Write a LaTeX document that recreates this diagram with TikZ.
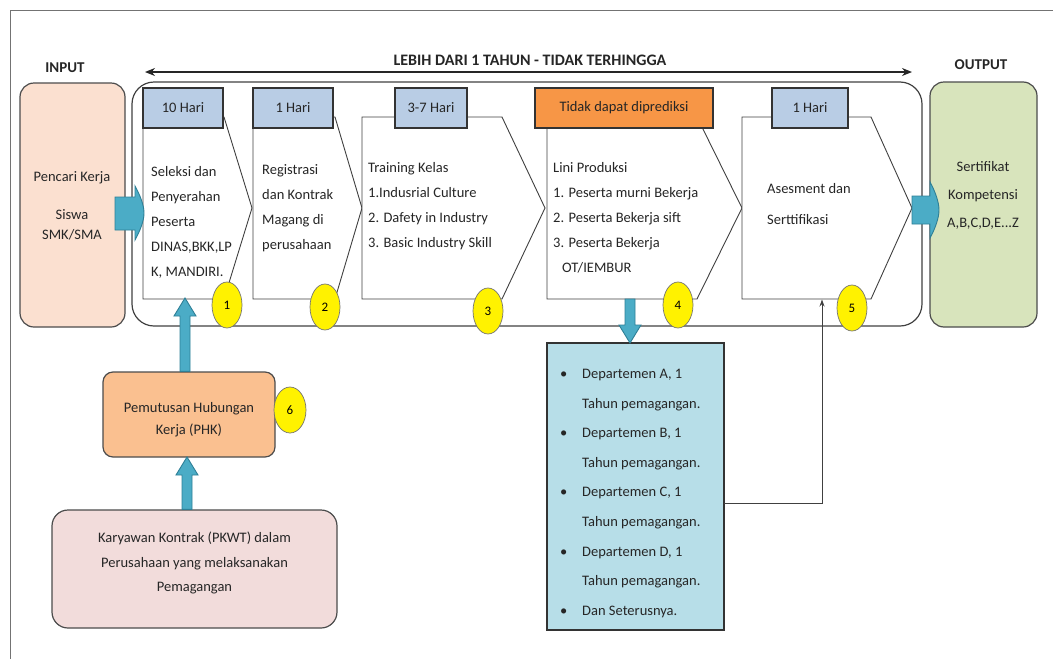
\documentclass[tikz,border=0pt]{standalone}
\usepackage{fontspec}
\setmainfont{Carlito}
\usetikzlibrary{calc,arrows.meta,shapes.geometric}
\definecolor{inpk}{HTML}{FBE0D0}
\definecolor{outgr}{HTML}{D8E4BC}
\definecolor{lblue}{HTML}{B9CDE5}
\definecolor{orng}{HTML}{F79646}
\definecolor{phkc}{HTML}{FAC090}
\definecolor{karc}{HTML}{F2DCDB}
\definecolor{deptc}{HTML}{B7DEE8}
\definecolor{blkc}{HTML}{4BACC6}
\definecolor{blkd}{HTML}{2E7F96}
\definecolor{ink}{HTML}{262626}
\newcommand\vblock[3]{%
 \draw[blk] let \p1=(#1), \p2=(#2) in
 (\x2-5pt,\y1) -- (\x2-5pt,{\y2-(#3)*18pt}) -- (\x2-11pt,{\y2-(#3)*18pt}) -- (\x2,\y2) -- (\x2+11pt,{\y2-(#3)*18pt}) -- (\x2+5pt,{\y2-(#3)*18pt}) -- (\x2+5pt,\y1) -- cycle;}
\begin{document}
\begin{tikzpicture}[x=1pt,y=-1pt,
  txt/.style={font=\fontsize{14.5}{25}\selectfont, inner sep=0, align=left, text=ink},
  hdr/.style={font=\bfseries\fontsize{15}{18}\selectfont, inner sep=0, text=ink},
  lbl/.style={draw=black!80, fill=lblue, line width=1.4pt, minimum height=40, inner sep=0, font=\fontsize{14.5}{18}\selectfont, text=ink},
  num/.style={ellipse, draw=black!55, line width=0.7pt, fill=yellow, minimum width=30, minimum height=46, inner sep=0, font=\fontsize{13}{15}\selectfont},
  rbox/.style={draw=black!70, line width=1.2pt, rounded corners=14, inner sep=0},
  chev/.style={draw=black!75, line width=0.9pt, fill=white},
  blk/.style={fill=blkc, draw=blkd, line width=0.9pt},
  thinarr/.style={draw=black!75, line width=0.9pt, -{Stealth[length=7pt,width=5pt]}}
]
\useasboundingbox (0,0) rectangle (1053,659);
% frame
\draw[black!55, line width=1pt] (10,659) -- (10,10) -- (1053,10);
% headers
\node[hdr] (inlbl) at (65,68) {INPUT};
\node[hdr] (outlbl) at (981,65) {OUTPUT};
\node[hdr, font=\bfseries\fontsize{16}{18}\selectfont] (span) at (530,60) {LEBIH DARI 1 TAHUN - TIDAK TERHINGGA};
\coordinate (spanL) at (145,72);
\coordinate (spanR) at (912,72);
\draw[line width=1.3pt, black!85, {Stealth[length=10pt,width=8pt]}-{Stealth[length=10pt,width=8pt]}] (spanL) -- (spanR);
% container
\node[draw=black!75, line width=1.2pt, rounded corners=22, minimum width=790, minimum height=244, inner sep=0] (cont) at (527,204) {};
% chevrons
\draw[chev] (143,117) -- (224,117) -- (252,208) -- (224,299) -- (143,299) -- cycle;
\draw[chev] (253,117) -- (335,117) -- (362,208) -- (335,299) -- (253,299) -- cycle;
\draw[chev] (362,117) -- (502,117) -- (545,208) -- (502,299) -- (362,299) -- cycle;
\draw[chev] (547,117) -- (697,117) -- (742,208) -- (697,299) -- (547,299) -- cycle;
\draw[chev] (742,117) -- (871,117) -- (912,208) -- (871,299) -- (742,299) -- cycle;
% label boxes
\node[lbl, minimum width=80] (l1) at (183,108) {10 Hari};
\node[lbl, minimum width=80] (l2) at (293,108) {1 Hari};
\node[lbl, minimum width=72] (l3) at (431,108) {3-7 Hari};
\node[lbl, minimum width=178, fill=orng] (l4) at (624,108) {Tidak dapat diprediksi};
\node[lbl, minimum width=76] (l5) at (810,108) {1 Hari};
% chevron texts
\node[txt, anchor=north west] (t1) at (151,166) {Seleksi dan\\Penyerahan\\Peserta\\DINAS,BKK,LP\\K, MANDIRI.};
\node[txt, anchor=north west] (t2) at (262,164) {Registrasi\\dan Kontrak\\Magang di\\perusahaan};
\node[txt, anchor=north west] (t3) at (368,162) {Training Kelas\\1.Indusrial Culture\\2. Dafety in Industry\\3. Basic Industry Skill};
\node[txt, anchor=north west] (t4) at (553,162) {Lini Produksi\\1. Peserta murni Bekerja\\2. Peserta Bekerja sift\\3. Peserta Bekerja\\\hspace*{9pt}OT/IEMBUR};
\node[txt, anchor=north west, font=\fontsize{14.5}{31}\selectfont] (t5) at (767,183) {Asesment dan\\Serttifikasi};
% number ellipses
\node[num] (n1) at (227,305) {1};
\node[num] (n2) at (325,307) {2};
\node[num] (n3) at (488,311) {3};
\node[num] (n4) at (678,305) {4};
\node[num] (n5) at (852,308) {5};
% input / output
\node[rbox, fill=inpk, minimum width=105, minimum height=244] (inp) at (72.5,205) {};
\node[txt, align=center, anchor=north, font=\fontsize{14.5}{20}\selectfont] (inptxt) at (72,171) {Pencari Kerja\\[18pt]Siswa\\SMK/SMA};
\node[rbox, fill=outgr, minimum width=107, minimum height=245] (outp) at (983.5,204.5) {};
\node[txt, align=center, anchor=north, font=\fontsize{14.5}{28}\selectfont] (outtxt) at (983,161) {Sertifikat\\Kompetensi\\A,B,C,D,E...Z};
% horizontal block arrows
\draw[blk] (115,197) -- (135,197) -- (135,186) .. controls (140,195) and (144,205) .. (144,213) .. controls (144,221) and (140,231) .. (135,240) -- (135,230) -- (115,230) -- cycle;
\draw[blk] (912,196) -- (930,196) -- (930,182) .. controls (935,191) and (939,202) .. (939,210) .. controls (939,218) and (935,229) .. (930,238) -- (930,224) -- (912,224) -- cycle;
% lower boxes
\node[rbox, fill=phkc, minimum width=172, minimum height=85, rounded corners=10] (phk) at (189,414.5) {};
\node[txt, align=center, font=\fontsize{14.5}{22}\selectfont] (phktxt) at (189,420) {Pemutusan Hubungan\\Kerja (PHK)};
\node[num, minimum width=32] (n6) at (290,410) {6};
\node[rbox, fill=karc, minimum width=285, minimum height=118, rounded corners=16] (kary) at (194.5,569) {};
\node[txt, align=center, font=\fontsize{14.5}{24.5}\selectfont] (karytxt) at (194.5,563) {Karyawan Kontrak (PKWT) dalam\\Perusahaan yang melaksanakan\\Pemagangan};
\node[draw=black!80, line width=1.2pt, fill=deptc, minimum width=177, minimum height=287, inner sep=0] (dept) at (635.5,486.5) {};
\node[txt, anchor=north west, font=\fontsize{14.5}{29.6}\selectfont] (depttxt) at (560,369) {%
\makebox[22pt][l]{\textbullet}Departemen A, 1\\\hspace*{22pt}Tahun pemagangan.\\
\makebox[22pt][l]{\textbullet}Departemen B, 1\\\hspace*{22pt}Tahun pemagangan.\\
\makebox[22pt][l]{\textbullet}Departemen C, 1\\\hspace*{22pt}Tahun pemagangan.\\
\makebox[22pt][l]{\textbullet}Departemen D, 1\\\hspace*{22pt}Tahun pemagangan.\\
\makebox[22pt][l]{\textbullet}Dan Seterusnya.};
% vertical block arrows
\coordinate (tip1) at (185,298);
\vblock{phk.north}{tip1}{1}
\coordinate (tip2) at (187,457);
\vblock{kary.north}{tip2}{1}
\coordinate (c4b) at (630,299);
\coordinate (tip3) at (630,343);
\vblock{c4b}{tip3}{-1}
% dept to assessment
\coordinate (c5b) at (822,299.5);
\coordinate (deptout) at (724,503);
\draw[thinarr] (deptout) -| (c5b);
\end{tikzpicture}
\end{document}
